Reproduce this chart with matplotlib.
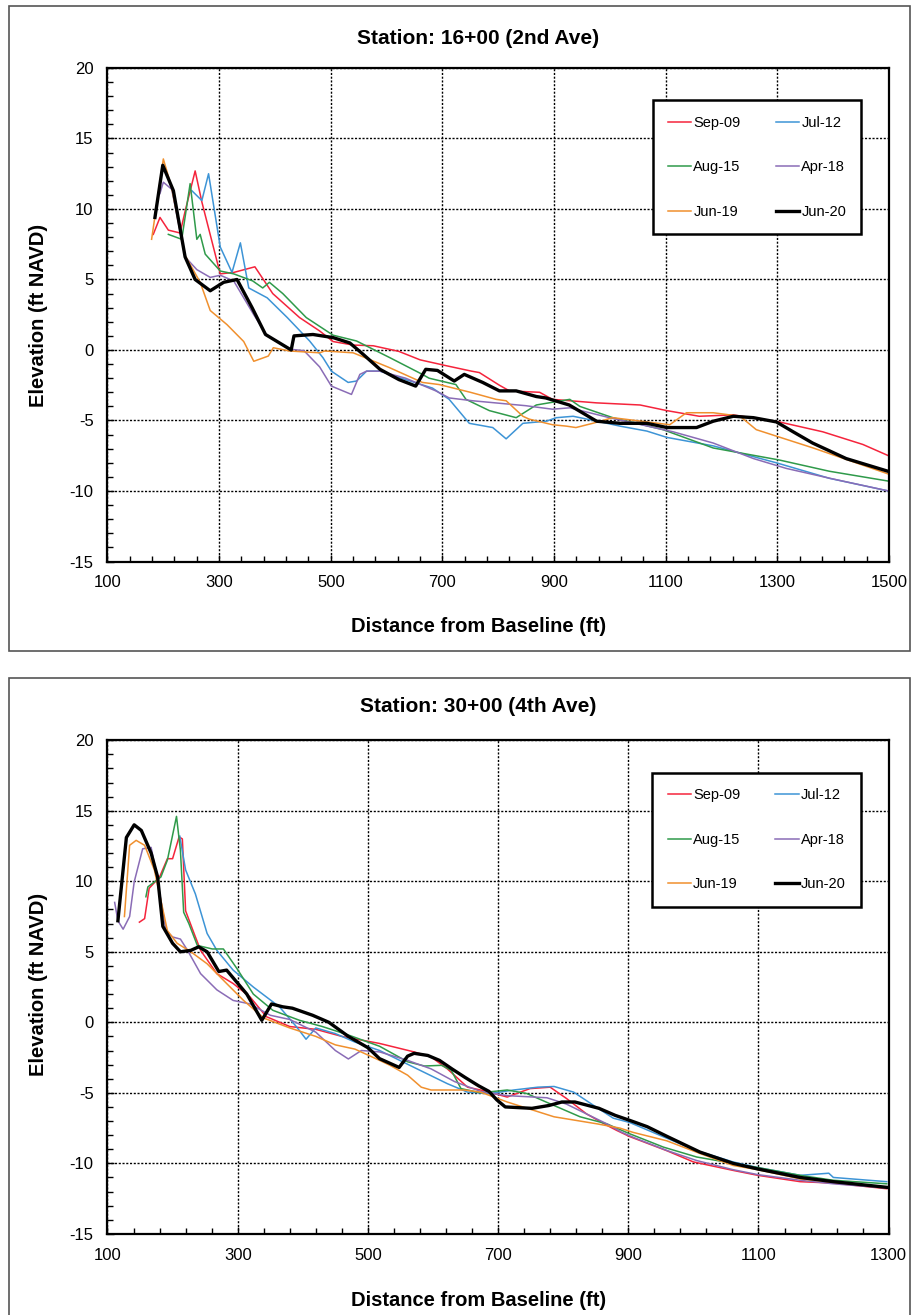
import matplotlib
matplotlib.use("Agg")
import matplotlib.pyplot as plt
from matplotlib.patches import Rectangle
from matplotlib.ticker import FixedLocator, MultipleLocator

# ---- Station 16+00 (2nd Ave) ----
top_sep09_x = [182, 194, 209, 230, 240, 257, 269, 299, 302, 326, 364, 396, 444, 480, 504, 540, 576, 622, 660, 694, 705, 752, 766, 802, 820, 874, 897, 976, 1054, 1102, 1160, 1220, 1303, 1381, 1453, 1499]
top_sep09_y = [8.2, 9.4, 8.5, 8.3, 10.0, 12.7, 10.5, 5.85, 5.4, 5.5, 5.9, 4.0, 2.3, 1.35, 0.6, 0.35, 0.3, -0.1, -0.7, -1.0, -1.1, -1.5, -1.6, -2.5, -2.9, -3.0, -3.5, -3.75, -3.9, -4.3, -4.7, -4.6, -5.1, -5.8, -6.7, -7.5]
top_jul12_x = [251, 269, 281, 302, 323, 338, 353, 386, 422, 462, 486, 501, 531, 546, 564, 588, 634, 682, 712, 748, 790, 814, 844, 886, 904, 934, 977, 1018, 1066, 1102, 1185, 1298, 1393, 1499]
top_jul12_y = [11.3, 10.6, 12.5, 7.3, 5.5, 7.6, 4.4, 3.7, 2.3, 0.64, -0.55, -1.5, -2.3, -2.2, -1.5, -1.5, -2.1, -2.7, -3.5, -5.2, -5.5, -6.3, -5.2, -5.05, -4.8, -4.7, -5.05, -5.4, -5.75, -6.2, -6.8, -8.0, -9.1, -10.0]
top_aug15_x = [209, 233, 248, 260, 266, 275, 302, 326, 360, 378, 390, 414, 456, 504, 546, 606, 664, 676, 724, 742, 784, 832, 868, 898, 928, 946, 1005, 1095, 1185, 1303, 1393, 1499]
top_aug15_y = [8.2, 7.85, 11.8, 7.85, 8.2, 6.8, 5.6, 5.4, 4.9, 4.4, 4.8, 4.0, 2.3, 1.05, 0.64, -0.55, -1.73, -2.0, -2.45, -3.5, -4.3, -4.8, -3.9, -3.7, -3.5, -4.0, -4.8, -5.65, -6.95, -7.8, -8.6, -9.3]
top_apr18_x = [194, 200, 215, 239, 260, 284, 302, 326, 362, 386, 428, 452, 480, 501, 537, 552, 564, 588, 634, 688, 712, 754, 849, 897, 928, 999, 1113, 1185, 1257, 1316, 1394, 1499]
top_apr18_y = [11.1, 11.9, 11.4, 6.6, 5.7, 5.15, 5.3, 4.9, 2.5, 1.0, 0.05, -0.05, -1.2, -2.56, -3.15, -1.73, -1.5, -1.5, -2.0, -2.9, -3.4, -3.6, -3.95, -4.2, -4.1, -4.8, -5.8, -6.6, -7.7, -8.4, -9.1, -10.0]
top_jun19_x = [179, 200, 215, 239, 266, 284, 314, 344, 362, 388, 397, 426, 480, 489, 540, 605, 664, 694, 750, 796, 814, 844, 855, 897, 922, 939, 969, 1005, 1066, 1107, 1137, 1185, 1233, 1262, 1364, 1499]
top_jun19_y = [7.85, 13.55, 11.5, 6.7, 4.8, 2.8, 1.8, 0.6, -0.8, -0.43, 0.16, -0.07, -0.2, -0.07, -0.2, -1.25, -2.3, -2.45, -3.0, -3.5, -3.6, -4.7, -4.9, -5.3, -5.4, -5.5, -5.2, -4.8, -5.1, -5.3, -4.45, -4.45, -4.7, -5.65, -6.95, -8.8]
top_jun20_x = [185, 199, 218, 239, 257, 284, 308, 332, 359, 383, 429, 434, 468, 504, 534, 558, 588, 622, 652, 670, 691, 721, 739, 772, 802, 832, 868, 885, 927, 976, 1018, 1066, 1102, 1155, 1185, 1221, 1257, 1298, 1328, 1363, 1423, 1498]
top_jun20_y = [9.4, 13.1, 11.3, 6.6, 5.0, 4.2, 4.8, 5.0, 3.0, 1.1, 0.0, 1.0, 1.1, 0.88, 0.5, -0.31, -1.37, -2.1, -2.56, -1.37, -1.45, -2.2, -1.73, -2.3, -2.9, -2.9, -3.3, -3.4, -3.9, -5.05, -5.2, -5.2, -5.5, -5.5, -5.05, -4.7, -4.8, -5.1, -5.8, -6.6, -7.7, -8.6]

# ---- Station 30+00 (4th Ave) ----
bot_sep09_x = [149, 157, 164, 180, 192, 200, 210, 215, 220, 233, 243, 268, 293, 319, 344, 380, 420, 460, 518, 571, 597, 622, 653, 673, 694, 714, 749, 780, 805, 836, 867, 882, 902, 959, 1000, 1061, 1099, 1164, 1215, 1297]
bot_sep09_y = [7.1, 7.35, 9.5, 10.3, 11.6, 11.6, 13.15, 13.0, 7.9, 6.3, 5.1, 3.45, 2.75, 1.8, 0.4, -0.3, -0.5, -1.0, -1.5, -2.1, -2.45, -3.3, -4.6, -4.8, -5.05, -5.3, -4.7, -4.6, -5.4, -6.5, -7.3, -7.66, -8.1, -9.1, -9.9, -10.5, -10.85, -11.3, -11.4, -11.8]
bot_jul12_x = [211, 220, 235, 253, 268, 293, 324, 364, 390, 405, 420, 450, 480, 518, 571, 622, 653, 689, 724, 761, 786, 816, 847, 877, 902, 953, 1005, 1061, 1099, 1164, 1208, 1215, 1297]
bot_jul12_y = [13.2, 10.8, 9.1, 6.3, 5.1, 3.7, 2.5, 1.1, -0.3, -1.2, -0.4, -0.8, -1.4, -2.0, -3.2, -4.35, -4.95, -5.05, -4.8, -4.6, -4.55, -4.95, -5.9, -6.8, -7.1, -8.1, -9.1, -9.9, -10.3, -10.85, -10.7, -11.0, -11.3]
bot_aug15_x = [159, 162, 182, 192, 206, 212, 217, 225, 238, 261, 278, 299, 324, 354, 395, 430, 470, 518, 561, 587, 613, 628, 643, 673, 714, 744, 786, 826, 867, 902, 954, 1005, 1061, 1099, 1164, 1215, 1297]
bot_aug15_y = [8.9, 9.6, 10.3, 11.5, 14.6, 12.2, 7.8, 7.0, 5.45, 5.2, 5.2, 3.8, 2.0, 0.85, 0.14, -0.3, -0.9, -1.7, -2.8, -3.1, -3.05, -3.4, -4.7, -5.0, -4.8, -5.05, -5.9, -6.7, -7.2, -7.9, -8.85, -9.55, -10.0, -10.3, -10.85, -11.2, -11.45]
bot_apr18_x = [111, 116, 124, 134, 141, 154, 167, 174, 190, 200, 212, 223, 243, 268, 293, 319, 350, 380, 420, 450, 470, 490, 518, 561, 597, 633, 673, 714, 775, 805, 836, 867, 890, 910, 960, 1005, 1061, 1099, 1164, 1215, 1297]
bot_apr18_y = [8.5, 7.2, 6.6, 7.5, 9.95, 12.3, 12.4, 10.8, 6.5, 6.05, 5.9, 5.1, 3.45, 2.3, 1.55, 1.3, 0.5, 0.2, -0.7, -2.0, -2.6, -2.0, -2.1, -2.7, -3.3, -4.2, -4.9, -5.2, -5.35, -5.8, -6.5, -7.2, -7.8, -8.2, -9.1, -9.8, -10.45, -10.8, -11.2, -11.45, -11.75]
bot_jun19_x = [126, 134, 144, 157, 172, 192, 207, 228, 253, 283, 309, 340, 380, 420, 450, 480, 518, 534, 561, 582, 597, 648, 673, 714, 786, 852, 887, 907, 959, 1010, 1061, 1099, 1164, 1297]
bot_jun19_y = [7.5, 12.55, 12.9, 12.55, 10.8, 6.5, 5.6, 5.0, 4.15, 2.75, 1.55, 0.3, -0.4, -1.0, -1.6, -1.9, -2.7, -3.05, -3.75, -4.6, -4.8, -4.8, -4.95, -5.65, -6.7, -7.2, -7.5, -7.8, -8.4, -9.3, -10.15, -10.45, -11.1, -11.7]
bot_jun20_x = [116, 129, 141, 152, 167, 177, 185, 200, 212, 228, 240, 253, 271, 283, 314, 337, 352, 369, 384, 415, 440, 470, 500, 518, 548, 561, 571, 592, 610, 629, 649, 670, 686, 698, 711, 752, 778, 798, 818, 855, 880, 902, 929, 960, 1010, 1061, 1099, 1164, 1215, 1297]
bot_jun20_y = [7.2, 13.1, 14.0, 13.6, 12.0, 10.3, 6.8, 5.6, 5.0, 5.1, 5.35, 5.0, 3.6, 3.7, 2.0, 0.14, 1.3, 1.1, 1.0, 0.5, 0.0, -1.0, -1.8, -2.58, -3.2, -2.4, -2.2, -2.35, -2.7, -3.3, -3.9, -4.5, -4.9, -5.5, -6.0, -6.1, -5.9, -5.65, -5.65, -6.1, -6.6, -6.95, -7.4, -8.1, -9.2, -10.0, -10.4, -11.0, -11.3, -11.7]

labels = ["Sep-09", "Jul-12", "Aug-15", "Apr-18", "Jun-19", "Jun-20"]
colors = ["#f5243c", "#3d94d6", "#2f9a4a", "#8a6cb6", "#f0902e", "black"]
widths = [1.1, 1.1, 1.1, 1.1, 1.1, 2.4]

top_series = [(top_sep09_x, top_sep09_y), (top_jul12_x, top_jul12_y), (top_aug15_x, top_aug15_y),
              (top_apr18_x, top_apr18_y), (top_jun19_x, top_jun19_y), (top_jun20_x, top_jun20_y)]
bot_series = [(bot_sep09_x, bot_sep09_y), (bot_jul12_x, bot_jul12_y), (bot_aug15_x, bot_aug15_y),
              (bot_apr18_x, bot_apr18_y), (bot_jun19_x, bot_jun19_y), (bot_jun20_x, bot_jun20_y)]

plt.rcParams['font.family'] = ['Liberation Sans', 'DejaVu Sans']
plt.rcParams['axes.unicode_minus'] = False

fig = plt.figure(figsize=(9.11, 13.15), dpi=100)


def panel(rect, series, xmax, title, title_y, xlabel_y, ylabel_y, frame):
    ax = fig.add_axes(rect)
    lines = []
    for (xs, ys), lab, c, lw in zip(series, labels, colors, widths):
        ln, = ax.plot(xs, ys, color=c, lw=lw, label=lab, zorder=3 if lab == "Jun-20" else 2)
        lines.append(ln)
    ax.set_xlim(100, xmax)
    ax.set_ylim(-15, 20)
    # Excel style axis: major every 200 from 100, minor every 40
    ax.xaxis.set_major_locator(FixedLocator(list(range(100, xmax + 1, 200))))
    ax.xaxis.set_minor_locator(FixedLocator(list(range(100, xmax + 1, 40))))
    ax.yaxis.set_major_locator(MultipleLocator(5))
    ax.yaxis.set_minor_locator(MultipleLocator(1))
    ax.grid(True, which='major', color='black', linestyle=(0, (1.5, 1.2)), linewidth=1.0)
    ax.tick_params(which='both', direction='in', labelsize=12)
    ax.tick_params(which='major', length=5, width=1)
    ax.tick_params(which='minor', length=4, width=1)
    ax.tick_params(axis='x', pad=10)
    ax.tick_params(axis='y', pad=10)
    for s in ax.spines.values():
        s.set_linewidth(1.6)
    # legend: columns Sep-09/Aug-15/Jun-19 and Jul-12/Apr-18/Jun-20
    order = [0, 2, 4, 1, 3, 5]
    leg = ax.legend([lines[i] for i in order], [labels[i] for i in order], ncol=2,
                    loc='upper left', bbox_to_anchor=(0.688, 0.949), fontsize=10.5,
                    handlelength=1.6, handletextpad=0.15, columnspacing=2.4,
                    labelspacing=2.1, borderpad=1.05, fancybox=False, framealpha=1)
    leg.get_frame().set_edgecolor('black')
    leg.get_frame().set_linewidth(1.8)
    fig.text(0.525, title_y, title, ha='center', va='center', fontsize=15, fontweight='bold')
    fig.text(0.525, xlabel_y, "Distance from Baseline (ft)", ha='center', va='center',
             fontsize=14.5, fontweight='bold')
    fig.text(0.042, ylabel_y, "Elevation (ft NAVD)", ha='center', va='center', rotation=90,
             fontsize=14.5, fontweight='bold')
    fig.add_artist(Rectangle((frame[0], frame[1]), frame[2], frame[3], transform=fig.transFigure,
                             fill=False, edgecolor='#555555', linewidth=1.2))
    return ax


panel([0.118, 0.573, 0.858, 0.3753], top_series, 1500, "Station: 16+00 (2nd Ave)",
      0.9711, 0.5232, 0.760, (0.0099, 0.5049, 0.989, 0.4905))
panel([0.118, 0.0617, 0.8575, 0.3754], bot_series, 1300, "Station: 30+00 (4th Ave)",
      0.4631, 0.0114, 0.251, (0.0099, -0.01, 0.989, 0.4944))

fig.savefig("out.png", dpi=100)
